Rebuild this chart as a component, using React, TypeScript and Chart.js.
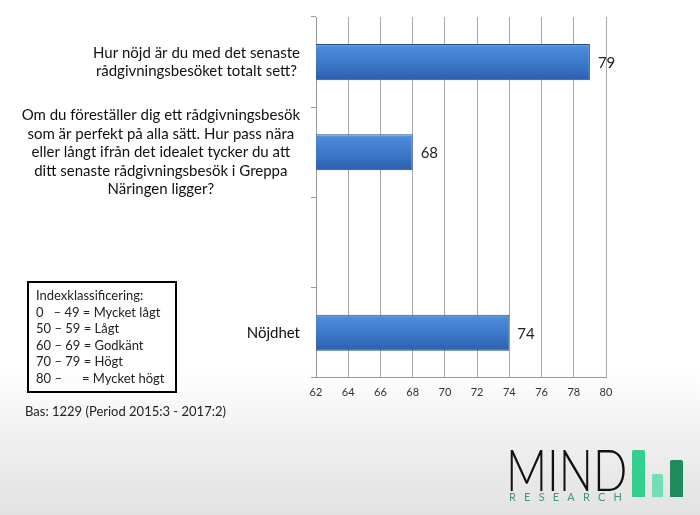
import React, { useEffect, useRef } from "react";
import { Chart, registerables } from "chart.js";

Chart.register(...registerables);

const categoryLines: string[][] = [
  ["Hur nöjd är du med det senaste", "rådgivningsbesöket totalt sett?"],
  [
    "Om du föreställer dig ett rådgivningsbesök",
    "som är perfekt på alla sätt. Hur pass nära",
    "eller långt ifrån det idealet tycker du att",
    "ditt senaste rådgivningsbesök i Greppa",
    "Näringen ligger?",
  ],
  [""],
  ["Nöjdhet"],
];
const categories: string[] = categoryLines.map((l) => l.join(" "));
const values: (number | null)[] = [79, 68, null, 74];
const xMin = 62;
const xMax = 80;
const xStep = 2;

const legendLines: string[] = [
  "Indexklassificering:",
  "0   – 49 = Mycket lågt",
  "50 – 59 = Lågt",
  "60 – 69 = Godkänt",
  "70 – 79 = Högt",
  "80 –      = Mycket högt",
];
const baseText = "Bas: 1229 (Period 2015:3 - 2017:2)";

const FONT = "Lato, 'Open Sans', sans-serif";

const labelPlugin = {
  id: "catLabels",
  afterDraw(chart: any) {
    const ctx = chart.ctx;
    const y = chart.scales.y;
    const area = chart.chartArea;
    ctx.save();
    ctx.font = `15px ${FONT}`;
    ctx.fillStyle = "#111";
    ctx.textBaseline = "middle";
    ctx.textAlign = "center";
    const lh = 18.5;
    categoryLines.forEach((lines, i) => {
      const w = Math.max(...lines.map((l) => ctx.measureText(l).width));
      const right = area.left - 16;
      const cx = right - w / 2;
      const cy = y.getPixelForValue(i);
      lines.forEach((l, k) => {
        ctx.fillText(l, cx, cy + (k - (lines.length - 1) / 2) * lh);
      });
    });
    const meta = chart.getDatasetMeta(0);
    ctx.font = `15px ${FONT}`;
    ctx.textAlign = "left";
    ctx.fillStyle = "#222";
    meta.data.forEach((bar: any, i: number) => {
      const v = values[i];
      if (v == null) return;
      ctx.fillText(String(v), bar.x + 8, bar.y + 1);
    });
    ctx.restore();
  },
};

export default function App() {
  const ref = useRef<HTMLCanvasElement>(null);
  useEffect(() => {
    document.body.style.margin = "0";
    const canvas = ref.current!;
    const chart = new Chart(canvas, {
      type: "bar",
      data: {
        labels: categories,
        datasets: [
          {
            data: values as any,
            backgroundColor: (c: any) => {
              const ch = c.chart;
              const ys = ch.scales && ch.scales.y;
              if (!ys || c.dataIndex == null) return "#3d7acb";
              const cy = ys.getPixelForValue(c.dataIndex);
              if (!isFinite(cy)) return "#3d7acb";
              const g = ch.ctx.createLinearGradient(0, cy - 18, 0, cy + 18);
              g.addColorStop(0, "#7fb2ee");
              g.addColorStop(0.08, "#4d8ad8");
              g.addColorStop(0.5, "#3d7acb");
              g.addColorStop(1, "#2c5fae");
              return g;
            },
            borderColor: "#1f4c88",
            borderWidth: 1,
            borderSkipped: "left",
            barPercentage: 0.4,
            categoryPercentage: 1,
          },
        ],
      },
      options: {
        indexAxis: "y",
        responsive: false,
        animation: false,
        devicePixelRatio: 1,
        layout: { padding: { left: 311, top: 17, right: 94, bottom: 108 } },
        plugins: { legend: { display: false }, tooltip: { enabled: false } },
        scales: {
          x: {
            min: xMin,
            max: xMax,
            ticks: {
              stepSize: xStep,
              color: "#333",
              font: { family: FONT, size: 11 },
              padding: 8,
            },
            grid: { color: "#a8a8a8", drawTicks: false },
            border: { color: "#999" },
          },
          y: {
            type: "category",
            offset: true,
            ticks: { display: false },
            grid: {
              offset: true,
              drawOnChartArea: false,
              drawTicks: true,
              tickLength: 5,
              color: "#999",
            },
            border: { color: "#999" },
          },
        },
      },
      plugins: [labelPlugin],
    });
    return () => chart.destroy();
  }, []);

  return (
    <div
      style={{
        position: "absolute",
        left: 0,
        top: 0,
        width: 700,
        height: 515,
        overflow: "hidden",
        background: "linear-gradient(to bottom, #ffffff 0%, #ffffff 72%, #f0f0f0 85%, #e2e2e2 100%)",
        fontFamily: FONT,
      }}
    >
      <canvas ref={ref} width={700} height={515} style={{ position: "absolute", left: 0, top: 0 }} />
      <div
        style={{
          position: "absolute",
          left: 27,
          top: 281,
          width: 139,
          height: 104,
          border: "2px solid #000",
          padding: "0 0 0 7px",
          boxSizing: "content-box",
          fontSize: 13,
          lineHeight: "16.5px",
          color: "#222",
          whiteSpace: "pre",
          paddingTop: 4,
        }}
      >
        {legendLines.map((l, i) => (
          <div key={i}>{l}</div>
        ))}
      </div>
      <div style={{ position: "absolute", left: 25, top: 403, fontSize: 13, color: "#222", whiteSpace: "pre" }}>
        {baseText}
      </div>
      <div
        style={{
          position: "absolute",
          left: 506,
          top: 435,
          fontSize: 58,
          fontWeight: 300,
          lineHeight: "68px",
          color: "#111",
          transformOrigin: "left top",
          transform: "scaleX(0.78)",
        }}
      >
        MIND
      </div>
      <div
        style={{
          position: "absolute",
          left: 509,
          top: 490,
          fontSize: 11,
          letterSpacing: "8.2px",
          color: "#3f9a6e",
          lineHeight: "14px",
        }}
      >
        RESEARCH
      </div>
      <div style={{ position: "absolute", left: 632, top: 450, width: 13, height: 47, background: "#33cf8e", borderRadius: "2px 2px 0 0" }} />
      <div style={{ position: "absolute", left: 652, top: 474, width: 11, height: 23, background: "#72dfb2", borderRadius: "2px 2px 0 0" }} />
      <div style={{ position: "absolute", left: 670, top: 460, width: 13, height: 37, background: "#1f8a5c", borderRadius: "2px 2px 0 0" }} />
    </div>
  );
}
